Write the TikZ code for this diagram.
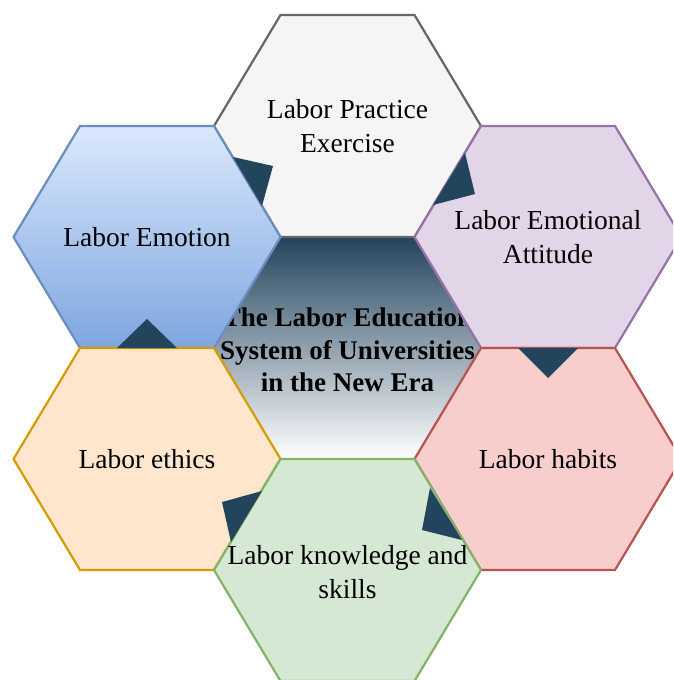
\documentclass[tikz,border=0pt]{standalone}
\usepackage{fontspec}
\setmainfont{Liberation Serif}
\usetikzlibrary{calc}
\definecolor{navy}{HTML}{23445D}
\definecolor{grayfill}{HTML}{F5F5F5}
\definecolor{graydraw}{HTML}{666666}
\definecolor{bluetop}{HTML}{DAE8FC}
\definecolor{bluebot}{HTML}{7EA6E0}
\definecolor{bluedraw}{HTML}{6C8EBF}
\definecolor{purplefill}{HTML}{E1D5E7}
\definecolor{purpledraw}{HTML}{9673A6}
\definecolor{orangefill}{HTML}{FFE6CC}
\definecolor{orangedraw}{HTML}{D79B00}
\definecolor{redfill}{HTML}{F8CECC}
\definecolor{reddraw}{HTML}{B85450}
\definecolor{greenfill}{HTML}{D5E8D4}
\definecolor{greendraw}{HTML}{82B366}
\tikzset{
  hexline/.style={line width=2.2pt, line join=miter},
  hexlabel/.style={align=center, inner sep=0pt, text=black, font=\fontsize{27.5}{34}\selectfont},
  centerlabel/.style={align=center, inner sep=0pt, text=black, font=\fontsize{27}{32.5}\selectfont\bfseries},
  marker/.style={fill=navy, draw=none},
}
\newcommand\hexcell[2]{\path[#1, shift={(#2)}] (-133.5,0) -- (-67,-111) -- (67,-111) -- (133.5,0) -- (67,111) -- (-67,111) -- cycle;}
\begin{document}
\begin{tikzpicture}[x=1pt,y=-1pt]
\useasboundingbox (0,0) rectangle (673,680);
\fill[white] (0,0) rectangle (673,680);
\clip (0,0) rectangle (673,680);
% centre hexagon
\hexcell{top color=navy, bottom color=white}{347.5,348}
\node[centerlabel] (core) at (347.5,350) {The Labor Education\\System of Universities\\in the New Era};
% outer hexagons
\hexcell{hexline, fill=grayfill, draw=graydraw}{347.5,126}
\hexcell{hexline, top color=bluetop, bottom color=bluebot, draw=bluedraw}{147,237}
\hexcell{hexline, fill=purplefill, draw=purpledraw}{548,237}
\hexcell{hexline, fill=orangefill, draw=orangedraw}{147,459}
\hexcell{hexline, fill=redfill, draw=reddraw}{548,459}
\hexcell{hexline, fill=greenfill, draw=greendraw}{347.5,570}
% markers between neighbours
\fill[marker] (233,157) -- (273,166) -- (262,206) -- cycle;
\fill[marker] (465,153) -- (475,194) -- (433,205) -- cycle;
\fill[marker] (518,348) -- (578,348) -- (548,378) -- cycle;
\fill[marker] (430,488) -- (422,530) -- (462,540) -- cycle;
\fill[marker] (262,491) -- (222,502) -- (231,542) -- cycle;
\fill[marker] (117,348) -- (177,348) -- (147,319) -- cycle;
% labels
\node[hexlabel] (practice) at (347.5,126) {Labor Practice\\Exercise};
\node[hexlabel] (emotion) at (147,237) {Labor Emotion};
\node[hexlabel] (attitude) at (548,237) {Labor Emotional\\Attitude};
\node[hexlabel] (ethics) at (147,459) {Labor ethics};
\node[hexlabel] (habits) at (548,459) {Labor habits};
\node[hexlabel] (knowledge) at (347.5,572) {Labor knowledge and\\skills};
\end{tikzpicture}
\end{document}
